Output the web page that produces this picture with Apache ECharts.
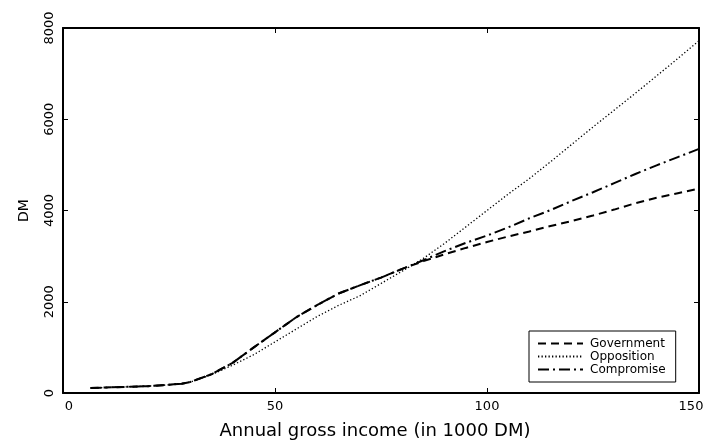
<!DOCTYPE html>
<html>
<head>
<meta charset="utf-8">
<script src="https://cdn.jsdelivr.net/npm/echarts@6/dist/echarts.min.js"></script>
<style>
html,body{margin:0;padding:0;background:#fff;}
#chart{width:716px;height:445px;}
</style>
</head>
<body>
<div id="chart"></div>
<script>
// Annual gross income (in 1000 DM)
var income = [6.5, 10, 15, 20, 25, 28, 30, 35, 40, 45, 50, 55, 60, 65, 70, 75, 80, 85, 90, 95, 100, 105, 110, 115, 120, 125, 130, 135, 140, 145, 150];
var government = [110, 120, 135, 150, 180, 205, 240, 410, 660, 1000, 1330, 1660, 1930, 2180, 2360, 2530, 2720, 2890, 3040, 3180, 3310, 3430, 3540, 3660, 3770, 3890, 4020, 4160, 4280, 4380, 4480];
var opposition = [110, 120, 135, 150, 180, 205, 240, 400, 610, 840, 1120, 1400, 1680, 1920, 2130, 2400, 2670, 2950, 3280, 3640, 4000, 4360, 4700, 5070, 5450, 5830, 6200, 6570, 6950, 7330, 7720];
var compromise = [110, 120, 135, 150, 180, 205, 240, 410, 660, 1000, 1330, 1660, 1930, 2180, 2360, 2530, 2720, 2910, 3110, 3290, 3450, 3630, 3830, 4010, 4210, 4400, 4600, 4800, 4990, 5170, 5350];
var seriesNames = ['Government', 'Opposition', 'Compromise'];
var xTicks = {min: 0, max: 150, interval: 50};
var yTicks = {min: 0, max: 8000, interval: 2000};

function pairs(ys) { return income.map(function (x, i) { return [x, ys[i]]; }); }

var FONT = 'DejaVu Sans';
var chart = echarts.init(document.getElementById('chart'), null, {renderer: 'canvas'});

var axisLineStyle = {show: true, onZero: false, lineStyle: {color: '#000', width: 2}};
var tickStyle = {show: true, inside: true, length: 5, lineStyle: {color: '#000', width: 1}};

chart.setOption({
  animation: false,
  backgroundColor: '#fff',
  grid: {left: 63, right: 17, top: 28, bottom: 47, containLabel: false},
  legend: {
    data: seriesNames,
    orient: 'vertical',
    left: 529,
    top: 331,
    padding: [6, 10, 6, 8],
    itemGap: 0,
    itemWidth: 45,
    itemHeight: 8,
    borderColor: '#000',
    borderWidth: 1,
    borderRadius: 0,
    backgroundColor: '#fff',
    itemStyle: {opacity: 0},
    textStyle: {fontFamily: FONT, fontSize: 12, color: '#000', lineHeight: 13, padding: [0, 0, 0, 2]}
  },
  xAxis: [{
    type: 'value', position: 'bottom',
    min: xTicks.min, max: xTicks.max, interval: xTicks.interval,
    name: 'Annual gross income (in 1000 DM)',
    nameLocation: 'middle', nameGap: 29,
    nameTextStyle: {fontFamily: FONT, fontSize: 18, color: '#000', padding: [0, 12, 0, 0]},
    axisLine: axisLineStyle, axisTick: tickStyle, splitLine: {show: false},
    axisLabel: {
      fontFamily: FONT, fontSize: 13, color: '#000', margin: 7,
      formatter: function (v) {
        if (v === 0) return '{a|0}';
        if (v === 150) return '{b|150}';
        return String(v);
      },
      rich: {
        a: {fontFamily: FONT, fontSize: 13, color: '#000', padding: [0, 0, 0, 12]},
        b: {fontFamily: FONT, fontSize: 13, color: '#000', padding: [0, 16, 0, 0]}
      }
    }
  }, {
    type: 'value', position: 'top',
    min: xTicks.min, max: xTicks.max, interval: xTicks.interval,
    axisLine: axisLineStyle, axisTick: tickStyle, axisLabel: {show: false}, splitLine: {show: false}
  }],
  yAxis: [{
    type: 'value', position: 'left',
    min: yTicks.min, max: yTicks.max, interval: yTicks.interval,
    name: 'DM', nameLocation: 'middle', nameRotate: 90, nameGap: 32,
    nameTextStyle: {fontFamily: FONT, fontSize: 14, color: '#000'},
    axisLine: axisLineStyle, axisTick: tickStyle, splitLine: {show: false},
    axisLabel: {fontFamily: FONT, fontSize: 13, color: '#000', rotate: 90, margin: 7,
      formatter: function (v) { return String(v); }}
  }, {
    type: 'value', position: 'right',
    min: yTicks.min, max: yTicks.max, interval: yTicks.interval,
    axisLine: axisLineStyle, axisTick: tickStyle, axisLabel: {show: false}, splitLine: {show: false}
  }],
  series: [{
    name: seriesNames[0], type: 'line', data: pairs(government),
    symbol: 'none', smooth: false,
    lineStyle: {color: '#000', width: 2, type: [8, 5]},
    itemStyle: {color: '#000'}
  }, {
    name: seriesNames[1], type: 'line', data: pairs(opposition),
    symbol: 'none', smooth: false,
    lineStyle: {color: '#000', width: 1.3, type: [1.3, 2.2]},
    itemStyle: {color: '#000'}
  }, {
    name: seriesNames[2], type: 'line', data: pairs(compromise),
    symbol: 'none', smooth: false,
    lineStyle: {color: '#000', width: 2, type: [11, 4, 2, 4]},
    itemStyle: {color: '#000'}
  }]
});
</script>
</body>
</html>
